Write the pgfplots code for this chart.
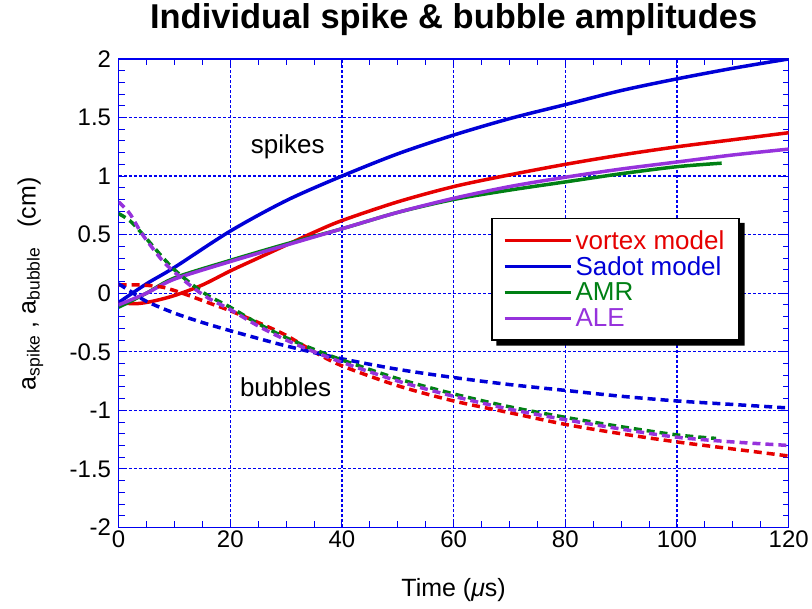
\documentclass[border=0pt]{standalone}
\usepackage{fontspec}
\setmainfont{Liberation Sans}
\usepackage{pgfplots}
\pgfplotsset{compat=1.18}
\definecolor{vred}{RGB}{230,0,0}
\definecolor{vblue}{RGB}{0,0,215}
\definecolor{vgreen}{RGB}{0,128,20}
\definecolor{vpurple}{RGB}{150,50,220}
\definecolor{gblue}{RGB}{0,0,240}
\begin{document}
\begin{tikzpicture}
\begin{axis}[
  name=ax,
  scale only axis, width=670.8pt, height=469pt,
  xmin=0, xmax=120, ymin=-2, ymax=2,
  xtick={0,20,40,60,80,100,120},
  ytick={-2,-1.5,-1,-0.5,0,0.5,1,1.5,2},
  yticklabels={-2,-1.5,-1,-0.5,0,0.5,1,1.5,2},
  minor x tick num=3, minor y tick num=4,
  axis line style={gblue, line width=1.3pt},
  tick style={gblue, line width=1pt},
  major tick length=8pt, minor tick length=6pt,
  tick align=inside,
  grid=major,
  major grid style={gblue, line width=1.2pt, dash pattern=on 3pt off 2pt},
  ticklabel style={font=\fontsize{24}{28}\selectfont, text=black},
  /pgf/number format/assume math mode=true,
  yticklabel style={xshift=-4pt},
  title={Individual spike \& bubble amplitudes},
  title style={font=\bfseries\fontsize{34.5}{40}\selectfont, at={(axis description cs:0.5,1)}, anchor=base, yshift=24pt},
  xlabel={Time (\textit{μ}s)},
  xlabel style={font=\fontsize{25}{30}\selectfont, at={(axis description cs:0.5,-0.147)}, anchor=base},
  ylabel={a\textsubscript{spike} , a\textsubscript{bubble}\hspace{0.8em}(cm)},
  ylabel style={font=\fontsize{25}{30}\selectfont, at={(axis description cs:-0.107,0.52)}, anchor=south},
  legend style={name=leg, at={(0.5565,0.661)}, anchor=north west, draw=black, line width=1.5pt, fill=white,
    font=\fontsize{26}{30}\selectfont, inner xsep=11pt, inner ysep=9pt, row sep=0pt,
    nodes={inner ysep=3pt, inner xsep=3.5pt}},
  legend cell align=left,
  legend image code/.code={\draw[#1, line width=3pt] (0pt,0pt) -- (66pt,0pt);},
]
% spikes (solid)
\addplot[vred, line width=3.5pt, smooth] coordinates {
(0,-0.08) (3,-0.09) (6,-0.07) (10,-0.02) (15,0.07) (20,0.19) (25,0.30) (30,0.41) (35,0.52) (40,0.62)
(50,0.78) (60,0.91) (70,1.01) (80,1.10) (90,1.18) (100,1.25) (110,1.31) (120,1.37)};
\addplot[vblue, line width=3.5pt, smooth] coordinates {
(0,-0.08) (5,0.08) (10,0.22) (20,0.53) (30,0.79) (40,1.0) (50,1.19) (60,1.35) (70,1.49)
(80,1.61) (90,1.73) (100,1.83) (110,1.92) (120,2.0)};
\addplot[vgreen, line width=3.5pt, smooth] coordinates {
(0,-0.12) (5,0.0) (10,0.13) (20,0.28) (30,0.42) (40,0.55) (50,0.69) (60,0.80) (70,0.88)
(80,0.95) (90,1.02) (100,1.08) (108,1.11)};
\addplot[vpurple, line width=3.5pt, smooth] coordinates {
(0,-0.10) (5,0.0) (10,0.12) (20,0.27) (30,0.41) (40,0.55) (50,0.69) (60,0.81) (70,0.91)
(80,0.99) (90,1.06) (100,1.12) (110,1.18) (120,1.23)};
\legend{\textcolor{vred}{vortex model}, \textcolor{vblue}{Sadot model}, \textcolor{vgreen}{AMR}, \textcolor{vpurple}{ALE}}
% bubbles (dashed)
\addplot[vred, line width=3.5pt, smooth, dash pattern=on 8pt off 5pt, forget plot] coordinates {
(0,0.07) (4,0.07) (8,0.05) (12,-0.01) (16,-0.08) (20,-0.15) (25,-0.25) (30,-0.36) (35,-0.50) (40,-0.62)
(50,-0.79) (60,-0.92) (70,-1.02) (80,-1.12) (90,-1.20) (100,-1.27) (110,-1.33) (120,-1.39)};
\addplot[vblue, line width=3.5pt, smooth, dash pattern=on 8pt off 5pt, forget plot] coordinates {
(0,0.08) (2,0.02) (5,-0.07) (10,-0.17) (15,-0.25) (20,-0.32) (30,-0.45) (40,-0.56) (50,-0.65)
(60,-0.72) (70,-0.78) (80,-0.83) (90,-0.88) (100,-0.92) (110,-0.95) (120,-0.98)};
\addplot[vgreen, line width=3.5pt, smooth, dash pattern=on 8pt off 5pt, forget plot] coordinates {
(0,0.68) (2,0.62) (4,0.52) (6,0.41) (8,0.30) (10,0.20) (13,0.08) (16,-0.02) (20,-0.12) (25,-0.26)
(30,-0.38) (35,-0.48) (40,-0.57) (50,-0.73) (60,-0.86) (70,-0.97) (80,-1.06) (90,-1.14) (100,-1.21) (107,-1.24)};
\addplot[vpurple, line width=3.5pt, smooth, dash pattern=on 8pt off 5pt, forget plot] coordinates {
(0,0.78) (2,0.68) (4,0.52) (6,0.39) (8,0.27) (10,0.18) (13,0.06) (16,-0.04) (20,-0.14) (25,-0.28)
(30,-0.40) (35,-0.50) (40,-0.59) (50,-0.75) (60,-0.88) (70,-0.99) (80,-1.08) (90,-1.16) (100,-1.23) (110,-1.27) (120,-1.30)};
\node[font=\fontsize{26}{30}\selectfont] at (axis cs:30.3,1.25) {spikes};
\node[font=\fontsize{26}{30}\selectfont] at (axis cs:29.9,-0.80) {bubbles};
\end{axis}
\fill[black] ([xshift=5pt]leg.south west) -- (leg.south east) -- ([yshift=-5pt]leg.north east)
  -- ([xshift=5pt,yshift=-5pt]leg.north east) -- ([xshift=5pt,yshift=-5pt]leg.south east)
  -- ([xshift=5pt,yshift=-5pt]leg.south west) -- cycle;
\path ([xshift=-118.7pt,yshift=-81pt]ax.south west) rectangle ([xshift=22.5pt,yshift=59pt]ax.north east);
\end{tikzpicture}
\end{document}
